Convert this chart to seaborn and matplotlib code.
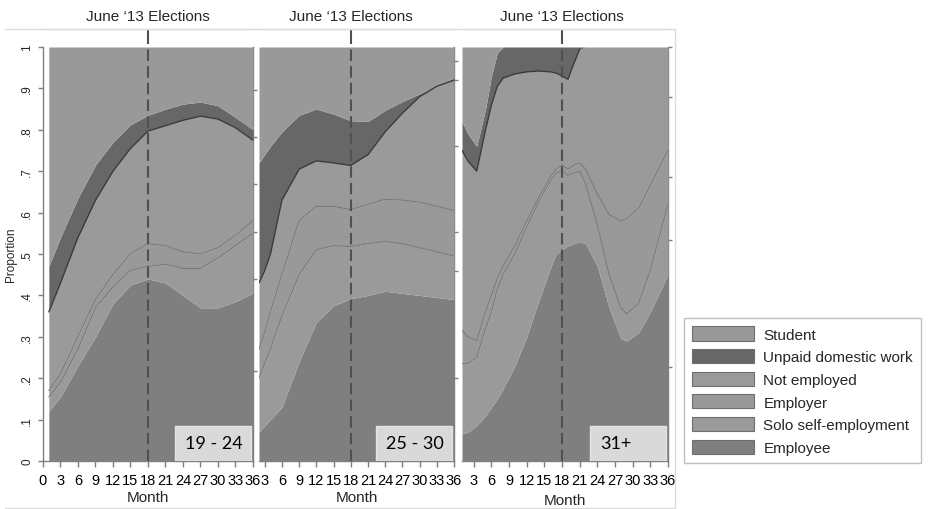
import numpy as np
import matplotlib
matplotlib.use("Agg")
import matplotlib.pyplot as plt
import seaborn as sns
from matplotlib.patches import Patch, Rectangle
from matplotlib.lines import Line2D
from matplotlib import font_manager

# ---------------- data (upper edge of each stacked category) ----
categories = ["Employee", "Solo self-employment", "Employer", "Not employed",
              "Unpaid domestic work", "Student"]
legend_order = ["Student", "Unpaid domestic work", "Not employed", "Employer",
                "Solo self-employment", "Employee"]
panel_labels = ["19 - 24", "25 - 30", "31+"]
election_month = 18
election_label = "June \u201813 Elections"
ytick_values = [0, .1, .2, .3, .4, .5, .6, .7, .8, .9, 1]
ytick_labels = ["0", ".1", ".2", ".3", ".4", ".5", ".6", ".7", ".8", ".9", "1"]

months_1924 = [1, 3, 6, 9, 12, 15, 18, 21, 24, 27, 30, 33, 36]
top_employee_1924 = [0.12, 0.155, 0.23, 0.30, 0.38, 0.425, 0.44, 0.43, 0.40, 0.37, 0.37, 0.385, 0.405]
top_solo_1924 = [0.155, 0.19, 0.27, 0.37, 0.42, 0.46, 0.47, 0.475, 0.465, 0.465, 0.49, 0.52, 0.55]
top_employer_1924 = [0.17, 0.21, 0.30, 0.39, 0.45, 0.50, 0.525, 0.52, 0.505, 0.50, 0.515, 0.545, 0.58]
top_notemp_1924 = [0.36, 0.43, 0.54, 0.63, 0.70, 0.755, 0.797, 0.81, 0.823, 0.833, 0.826, 0.805, 0.775]
top_unpaid_1924 = [0.47, 0.54, 0.635, 0.715, 0.77, 0.812, 0.835, 0.85, 0.862, 0.867, 0.858, 0.83, 0.80]

months_2530 = [2, 3, 4, 6, 9, 12, 15, 18, 21, 24, 27, 30, 33, 36]
top_employee_2530 = [0.07, 0.085, 0.10, 0.13, 0.24, 0.335, 0.375, 0.392, 0.40, 0.41, 0.405, 0.40, 0.395, 0.39]
top_solo_2530 = [0.20, 0.235, 0.27, 0.35, 0.45, 0.51, 0.52, 0.518, 0.525, 0.53, 0.525, 0.515, 0.505, 0.495]
top_employer_2530 = [0.27, 0.31, 0.36, 0.45, 0.58, 0.615, 0.615, 0.607, 0.62, 0.632, 0.63, 0.625, 0.615, 0.605]
top_notemp_2530 = [0.43, 0.46, 0.50, 0.63, 0.705, 0.725, 0.72, 0.714, 0.74, 0.795, 0.84, 0.88, 0.905, 0.92]
top_unpaid_2530 = [0.72, 0.74, 0.76, 0.795, 0.835, 0.85, 0.838, 0.822, 0.82, 0.847, 0.868, 0.887, 0.905, 0.925]

months_31 = [1, 2, 3.5, 5, 6, 7, 8, 10, 12, 14, 16, 17, 18, 19, 20, 21, 22, 24, 26, 28, 29, 31, 33, 36]
top_employee_31 = [0.065, 0.07, 0.085, 0.11, 0.13, 0.15, 0.175, 0.23, 0.30, 0.385, 0.465, 0.50,
                   0.51, 0.52, 0.525, 0.53, 0.525, 0.47, 0.37, 0.295, 0.29, 0.31, 0.36, 0.45]
top_solo_31 = [0.235, 0.235, 0.25, 0.32, 0.36, 0.415, 0.45, 0.50, 0.565, 0.625, 0.675, 0.695,
               0.70, 0.69, 0.695, 0.70, 0.67, 0.57, 0.45, 0.37, 0.355, 0.38, 0.46, 0.62]
top_employer_31 = [0.315, 0.30, 0.29, 0.36, 0.40, 0.44, 0.47, 0.52, 0.58, 0.635, 0.685, 0.705,
                   0.715, 0.705, 0.715, 0.72, 0.705, 0.645, 0.595, 0.58, 0.585, 0.61, 0.665, 0.75]
top_notemp_31 = [0.75, 0.725, 0.70, 0.80, 0.86, 0.905, 0.925, 0.935, 0.94, 0.942, 0.94, 0.937,
                 0.93, 0.922, 0.96, 0.995, 1.0, 1.0, 1.0, 1.0, 1.0, 1.0, 1.0, 1.0]
top_unpaid_31 = [0.82, 0.79, 0.76, 0.85, 0.93, 0.985, 1.0, 1.0, 1.0, 1.0, 1.0, 1.0,
                 1.0, 1.0, 1.0, 1.0, 1.0, 1.0, 1.0, 1.0, 1.0, 1.0, 1.0, 1.0]

# ---------------- style ----------------
sns.set_theme(style="white")
avail = {f.name for f in font_manager.fontManager.ttflist}
SANS = "Liberation Sans" if "Liberation Sans" in avail else "DejaVu Sans"
NARROW = "Liberation Sans Narrow" if "Liberation Sans Narrow" in avail else SANS
CAL = "Lato" if "Lato" in avail else SANS
plt.rcParams["font.family"] = [SANS, "DejaVu Sans"]

COLORS = {
    "Employee": "#7f7f7f",
    "Solo self-employment": "#9a9a9a",
    "Employer": "#999999",
    "Not employed": "#9a9a9a",
    "Unpaid domestic work": "#676767",
    "Student": "#999999",
}
AXC = "#7f7f7f"

W, H = 937, 510
Y0, Y1 = 462, 48  # pixel rows of y=0 and y=1
fig = plt.figure(figsize=(W / 100, H / 100), dpi=100)

panels = [
    dict(label=panel_labels[0], lr=(43, 253), xlim=(0, 36), xticks=list(range(0, 37, 3)),
         m=months_1924, tops=[top_employee_1924, top_solo_1924, top_employer_1924,
                              top_notemp_1924, top_unpaid_1924],
         rticks=[0.896, 0.782, 0.668, 0.554, 0.44, 0.218], mlab=-0.070),
    dict(label=panel_labels[1], lr=(259, 454), xlim=(2, 36), xticks=list(range(3, 37, 3)),
         m=months_2530, tops=[top_employee_2530, top_solo_2530, top_employer_2530,
                              top_notemp_2530, top_unpaid_2530],
         rticks=[0.966, 0.92, 0.76, 0.552, 0.46, 0.20], mlab=-0.070),
    dict(label=panel_labels[2], lr=(462, 668), xlim=(1, 36), xticks=list(range(3, 37, 3)),
         m=months_31, tops=[top_employee_31, top_solo_31, top_employer_31,
                            top_notemp_31, top_unpaid_31],
         rticks=[1.0, 0.879, 0.685, 0.533, 0.228], mlab=-0.078),
]

for i, p in enumerate(panels):
    lpx, rpx = p["lr"]
    axw = rpx - lpx
    ax = fig.add_axes([lpx / W, 1 - Y0 / H, axw / W, (Y0 - Y1) / H])
    m = np.asarray(p["m"], dtype=float)
    bounds = [np.zeros(len(m))] + [np.asarray(t, dtype=float) for t in p["tops"]] + [np.ones(len(m))]
    for k, name in enumerate(categories):
        ax.fill_between(m, bounds[k], bounds[k + 1], color=COLORS[name], lw=0, zorder=1)
    # boundary lines
    for k in [2, 3]:
        sns.lineplot(x=m, y=bounds[k], ax=ax, color="#7a7a7a", lw=0.8, zorder=3, legend=False)
    ne = np.where(bounds[4] >= 0.999, np.nan, bounds[4])
    sns.lineplot(x=m, y=ne, ax=ax, color="#3c3c3c", lw=1.0, zorder=3, legend=False)

    ax.axvline(election_month, color="#505050", lw=1.5, ls=(0, (5.5, 2.5)), zorder=5)

    ax.set_xlim(*p["xlim"])
    ax.set_ylim(0, 1)
    ax.set_xticks(p["xticks"])
    ax.set_xticklabels([str(t) for t in p["xticks"]], fontfamily=NARROW, fontsize=10.5)
    ax.tick_params(axis="x", bottom=True, length=4, width=1, color=AXC, pad=4.5, labelcolor="black")
    ax.set_xlabel("Month", fontsize=11)
    ax.xaxis.set_label_coords(0.5, p["mlab"])
    for s in ["top", "right"]:
        ax.spines[s].set_visible(False)
    ax.spines["bottom"].set_color(AXC)
    ax.spines["bottom"].set_linewidth(1)
    if i == 0:
        ax.spines["left"].set_color(AXC)
        ax.spines["left"].set_linewidth(1)
        ax.set_yticks(ytick_values)
        ax.set_yticklabels(ytick_labels, rotation=90, va="center", fontsize=8.5)
        ax.tick_params(axis="y", left=True, length=3.5, width=1, color=AXC, pad=3.5)
        ax.set_ylabel("Proportion", fontsize=8.5)
        ax.yaxis.set_label_coords(-0.124, 0.5)
    else:
        ax.spines["left"].set_visible(False)
        ax.set_yticks([])
        ax.set_ylabel("")

    # right-hand secondary ticks (unlabelled)
    sy = ax.secondary_yaxis("right")
    sy.set_yticks(p["rticks"])
    sy.set_yticklabels([])
    sy.tick_params(length=3, width=1, color=AXC, direction="out")
    sy.spines["right"].set_color(AXC)
    sy.spines["right"].set_linewidth(1)

    # top election marker axis
    sx = ax.secondary_xaxis("top")
    sx.set_xticks([election_month])
    sx.set_xticklabels([election_label], fontfamily=CAL, fontsize=10, color="#6e6e6e")
    sx.tick_params(direction="in", length=11, width=1.5, color="#505050", pad=4)
    sx.spines["top"].set_position(("outward", 13))
    sx.spines["top"].set_color("#dcdcdc")
    sx.spines["top"].set_linewidth(1)

    # panel label box
    bw, bh = 76 / axw, 35 / (Y0 - Y1)
    bx = 1 - 2 / axw - bw
    ax.add_patch(Rectangle((bx, 0), bw, bh, transform=ax.transAxes, facecolor="#d9d9d9",
                           edgecolor="#e4e4e4", lw=1, zorder=6))
    ax.text(bx + 10 / axw, bh / 2, p["label"], transform=ax.transAxes, ha="left", va="center",
            fontsize=13, fontfamily=CAL, color="black", zorder=7)

# graph-region border lines
for (x0, y0, x1, y1) in [(5, 30, 675, 30), (5, 509, 675, 509), (675, 30, 675, 509)]:
    fig.add_artist(Line2D([x0 / W, x1 / W], [1 - y0 / H, 1 - y1 / H], color="#dcdcdc", lw=1))

# legend
handles = [Patch(facecolor=COLORS[n], edgecolor="#6e6e6e", lw=0.8, label=n) for n in legend_order]
leg = fig.legend(handles=handles, loc="upper left", bbox_to_anchor=(684 / W, 1 - 319 / H),
                 borderaxespad=0, frameon=True, fancybox=False, fontsize=11,
                 handlelength=4.05, handleheight=1.05, handletextpad=0.6,
                 labelspacing=0.48, borderpad=0.55)
leg.get_frame().set_edgecolor("#b0b0b0")
leg.get_frame().set_linewidth(1)

fig.savefig("out.png", dpi=100)
